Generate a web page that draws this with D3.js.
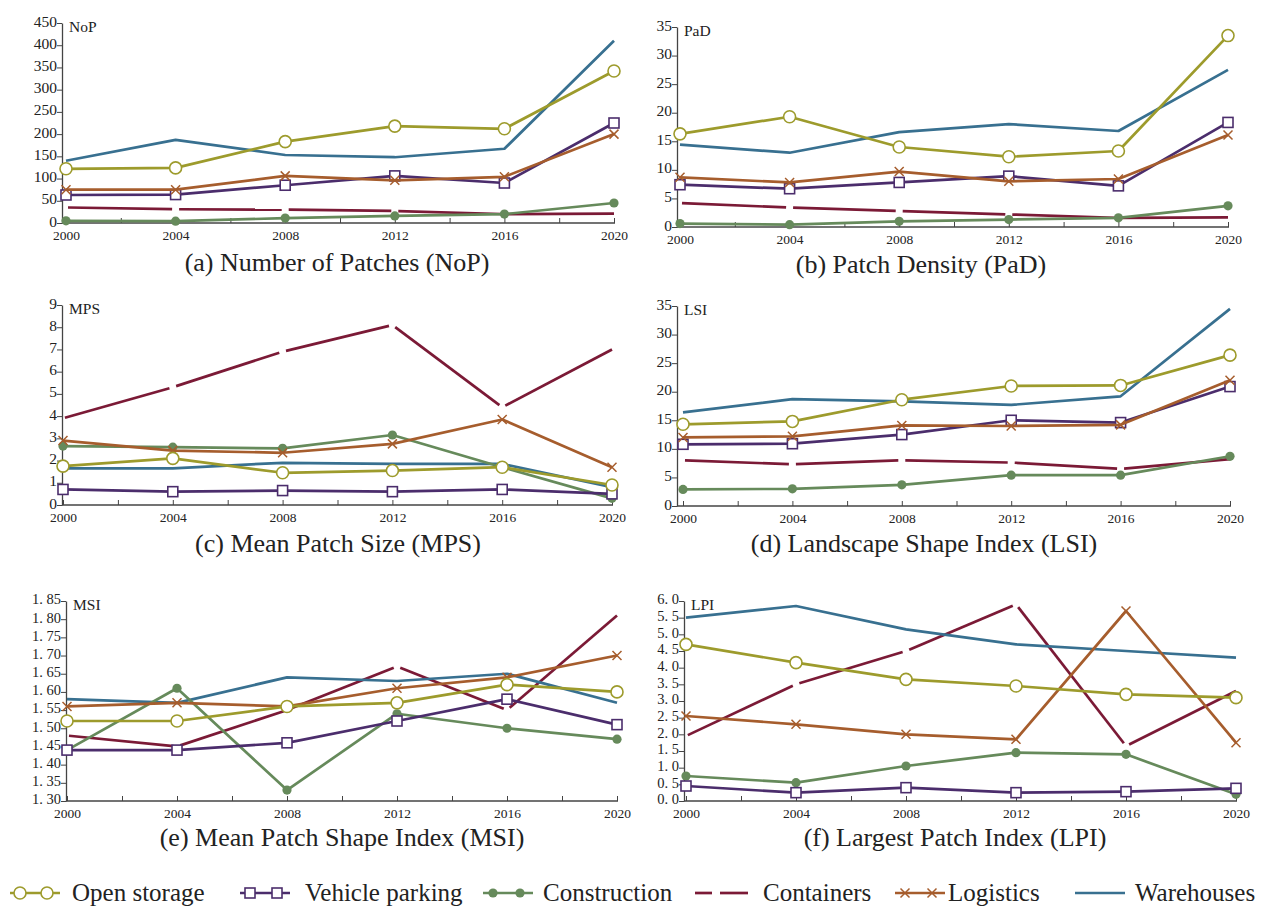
<!DOCTYPE html>
<html>
<head>
<meta charset="utf-8">
<script src="https://cdn.jsdelivr.net/npm/d3@7"></script>
<style>
  body { margin: 0; background: #fff; }
  svg text { font-family: "Liberation Serif", "Times New Roman", serif; fill: #222; }
</style>
</head>
<body>
<script>
var width = 1272,
    height = 907,
    serif = '"Liberation Serif", "Times New Roman", serif';

var years = [2000, 2004, 2008, 2012, 2016, 2020];
var seriesNames = ['Open storage', 'Vehicle parking', 'Construction', 'Containers', 'Logistics', 'Warehouses'];
var seriesColors = ['#9d9b2c', '#4b2d6c', '#668a5b', '#7b1a36', '#a65d2d', '#387090'];
var seriesMarks = ['circle', 'square', 'dot', 'dash', 'cross', 'none'];

// values per series, same order as seriesNames
var nopValues = [
  [122, 124, 183, 218, 212, 342],
  [63, 64, 85, 106, 90, 225],
  [5, 4, 11, 16, 20, 45],
  [35, 31, 30, 27, 20, 21],
  [75, 75, 106, 96, 104, 200],
  [140, 187, 153, 148, 167, 410]
];
var padValues = [
  [16.3, 19.3, 14.0, 12.3, 13.3, 33.5],
  [7.4, 6.7, 7.8, 8.9, 7.2, 18.3],
  [0.6, 0.4, 1.0, 1.3, 1.6, 3.7],
  [4.2, 3.4, 2.8, 2.2, 1.6, 1.7],
  [8.7, 7.8, 9.7, 8.0, 8.4, 16.1],
  [14.4, 13.0, 16.6, 18.0, 16.8, 27.5]
];
var mpsValues = [
  [1.75, 2.1, 1.45, 1.55, 1.7, 0.9],
  [0.7, 0.6, 0.65, 0.6, 0.7, 0.5],
  [2.65, 2.6, 2.55, 3.15, 1.7, 0.3],
  [3.9, 5.3, 6.9, 8.1, 4.4, 7.0],
  [2.9, 2.45, 2.35, 2.75, 3.85, 1.7],
  [1.65, 1.65, 1.9, 1.85, 1.85, 0.8]
];
var lsiValues = [
  [14.3, 14.8, 18.6, 21.0, 21.1, 26.4],
  [10.8, 10.9, 12.5, 15.0, 14.6, 20.9],
  [2.9, 3.0, 3.7, 5.4, 5.4, 8.7],
  [8.0, 7.3, 8.0, 7.6, 6.5, 8.2],
  [12.0, 12.2, 14.1, 14.0, 14.2, 22.0],
  [16.4, 18.7, 18.3, 17.7, 19.2, 34.5]
];
var msiValues = [
  [1.52, 1.52, 1.56, 1.57, 1.62, 1.60],
  [1.44, 1.44, 1.46, 1.52, 1.58, 1.51],
  [1.44, 1.61, 1.33, 1.54, 1.50, 1.47],
  [1.48, 1.45, 1.55, 1.67, 1.55, 1.81],
  [1.56, 1.57, 1.56, 1.61, 1.64, 1.70],
  [1.58, 1.57, 1.64, 1.63, 1.65, 1.57]
];
var lpiValues = [
  [4.7, 4.15, 3.65, 3.45, 3.2, 3.1],
  [0.45, 0.25, 0.4, 0.25, 0.28, 0.38],
  [0.75, 0.55, 1.05, 1.45, 1.4, 0.2],
  [1.95, 3.5, 4.5, 5.9, 1.65, 3.3],
  [2.55, 2.3, 2.0, 1.85, 5.7, 1.75],
  [5.5, 5.85, 5.15, 4.7, 4.5, 4.3]
];

function spaced(f) {
  return function(d) { return d3.format(f)(d).replace('.', '. '); };
}

var panels = [
  { label: 'NoP', title: '(a) Number of Patches (NoP)', values: nopValues, domain: [0, 450], step: 50, fmt: d3.format('d'),
    axisX: 62, x0: 66, x1: 614, y0: 223, y1: 23, titleX: 337, titleY: 271 },
  { label: 'PaD', title: '(b) Patch Density (PaD)', values: padValues, domain: [0, 35], step: 5, fmt: d3.format('d'),
    axisX: 677, x0: 680, x1: 1228, y0: 227, y1: 27, titleX: 921, titleY: 273 },
  { label: 'MPS', title: '(c) Mean Patch Size (MPS)', values: mpsValues, domain: [0, 9], step: 1, fmt: d3.format('d'),
    axisX: 62, x0: 63, x1: 612, y0: 505, y1: 305, titleX: 338, titleY: 552 },
  { label: 'LSI', title: '(d) Landscape Shape Index (LSI)', values: lsiValues, domain: [0, 35], step: 5, fmt: d3.format('d'),
    axisX: 677, x0: 683, x1: 1230, y0: 506, y1: 306, titleX: 924, titleY: 552 },
  { label: 'MSI', title: '(e) Mean Patch Shape Index (MSI)', values: msiValues, domain: [1.30, 1.85], step: 0.05, fmt: spaced('.2f'),
    axisX: 66, x0: 67, x1: 617, y0: 801, y1: 601, titleX: 342, titleY: 846 },
  { label: 'LPI', title: '(f) Largest Patch Index (LPI)', values: lpiValues, domain: [0, 6], step: 0.5, fmt: spaced('.1f'),
    axisX: 684, x0: 686, x1: 1236, y0: 801, y1: 601, titleX: 955, titleY: 846 }
];

var svg = d3.select('body').append('svg')
    .attr('width', width)
    .attr('height', height);

svg.append('rect').attr('width', width).attr('height', height).attr('fill', '#fff');

function drawMark(g, kind, color, x, y) {
  if (kind == 'circle') {
    g.append('circle').attr('cx', x).attr('cy', y).attr('r', 6)
      .attr('fill', '#fff').attr('stroke', color).attr('stroke-width', 1.6);
  } else if (kind == 'square') {
    g.append('rect').attr('x', x - 5).attr('y', y - 5).attr('width', 10).attr('height', 10)
      .attr('fill', '#fff').attr('stroke', color).attr('stroke-width', 1.6);
  } else if (kind == 'dot') {
    g.append('circle').attr('cx', x).attr('cy', y).attr('r', 4.6).attr('fill', color);
  } else if (kind == 'cross') {
    g.append('path').attr('d', 'M' + (x - 4.5) + ',' + (y - 4.5) + 'L' + (x + 4.5) + ',' + (y + 4.5) +
        'M' + (x - 4.5) + ',' + (y + 4.5) + 'L' + (x + 4.5) + ',' + (y - 4.5))
      .attr('stroke', color).attr('stroke-width', 1.5).attr('fill', 'none');
  }
}

panels.forEach(function(p) {
  var g = svg.append('g');
  var x = d3.scaleLinear().domain([2000, 2020]).range([p.x0, p.x1]);
  var y = d3.scaleLinear().domain(p.domain).range([p.y0, p.y1]);
  var ticks = d3.range(p.domain[0], p.domain[1] + p.step / 2, p.step);

  // y axis
  var yAxis = g.append('g').attr('transform', 'translate(' + p.axisX + ',0)')
      .call(d3.axisLeft(y).tickValues(ticks).tickSize(5).tickSizeOuter(0).tickFormat(p.fmt));
  yAxis.select('.domain').attr('stroke', '#444').attr('stroke-width', 1.3);
  yAxis.selectAll('.tick line').attr('stroke', '#444');
  yAxis.selectAll('.tick text').attr('x', -5).attr('dy', '0.2em')
      .style('font-family', serif).style('font-size', p.step < 1 ? '14.5px' : '15.5px').attr('fill', '#222');

  // x axis, ticks pointing inward
  var xAxis = g.append('g').attr('transform', 'translate(0,' + p.y0 + ')')
      .call(d3.axisBottom(x).tickValues(d3.range(2000, 2021, 2)).tickSize(-5).tickSizeOuter(0)
        .tickFormat(function(d) { return years.indexOf(d) >= 0 ? d : ''; }));
  xAxis.select('.domain').attr('d', 'M' + p.axisX + ',0H' + (p.x1 + 1)).attr('stroke', '#444').attr('stroke-width', 1.3);
  xAxis.selectAll('.tick line').attr('stroke', '#444');
  xAxis.selectAll('.tick text').attr('y', 7)
      .style('font-family', serif).style('font-size', '13.5px').attr('fill', '#222');

  g.append('text').attr('x', p.axisX + 7).attr('y', p.y1 + 9)
    .style('font-family', serif).style('font-size', '15.5px').text(p.label);

  var line = d3.line()
      .x(function(d, i) { return x(years[i]); })
      .y(function(d) { return y(d); });

  // containers and warehouses underneath, marked series on top
  var order = [3, 5, 2, 1, 4, 0];
  order.forEach(function(s) {
    var vals = p.values[s];
    var color = seriesColors[s];
    var sg = g.append('g');
    if (seriesMarks[s] == 'dash') {
      // one stroke per interval, with a small gap at each inner point
      for (var i = 0; i < vals.length - 1; i++) {
        var ax = x(years[i]), ay = y(vals[i]);
        var bx = x(years[i + 1]), by = y(vals[i + 1]);
        var len = Math.sqrt((bx - ax) * (bx - ax) + (by - ay) * (by - ay));
        var ux = (bx - ax) / len, uy = (by - ay) / len;
        var ga = i == 0 ? 2 : 3.5, gb = i == vals.length - 2 ? 0 : 3.5;
        sg.append('line')
          .attr('x1', ax + ux * ga).attr('y1', ay + uy * ga)
          .attr('x2', bx - ux * gb).attr('y2', by - uy * gb)
          .attr('stroke', color).attr('stroke-width', 2.7);
      }
    } else {
      sg.append('path').datum(vals).attr('d', line)
        .attr('fill', 'none').attr('stroke', color).attr('stroke-width', 2.7)
        .attr('stroke-linejoin', 'round');
      vals.forEach(function(v, i) {
        drawMark(sg, seriesMarks[s], color, x(years[i]), y(v));
      });
    }
  });

  g.append('text').attr('x', p.titleX).attr('y', p.titleY)
    .attr('text-anchor', 'middle')
    .style('font-family', serif).style('font-size', '26px').text(p.title);
});

// legend
var legendMarkX = [10, 240, 483, 695, 895, 1075];
var legendTextX = [72, 305, 543, 763, 948, 1135];
var legend = svg.append('g').attr('transform', 'translate(0,893)');
seriesNames.forEach(function(name, s) {
  var color = seriesColors[s];
  var lx = legendMarkX[s];
  var item = legend.append('g');
  if (seriesMarks[s] == 'dash') {
    item.append('line').attr('x1', lx).attr('x2', lx + 17).attr('y1', 0).attr('y2', 0)
      .attr('stroke', color).attr('stroke-width', 2.7);
    item.append('line').attr('x1', lx + 25).attr('x2', lx + 53).attr('y1', 0).attr('y2', 0)
      .attr('stroke', color).attr('stroke-width', 2.7);
  } else {
    item.append('line').attr('x1', lx).attr('x2', lx + 50).attr('y1', 0).attr('y2', 0)
      .attr('stroke', color).attr('stroke-width', 2.7);
    drawMark(item, seriesMarks[s], color, lx + 10, 0);
    drawMark(item, seriesMarks[s], color, lx + 37, 0);
  }
  item.append('text').attr('x', legendTextX[s]).attr('y', 8)
    .style('font-family', serif).style('font-size', '25px').text(name);
});
</script>
</body>
</html>
